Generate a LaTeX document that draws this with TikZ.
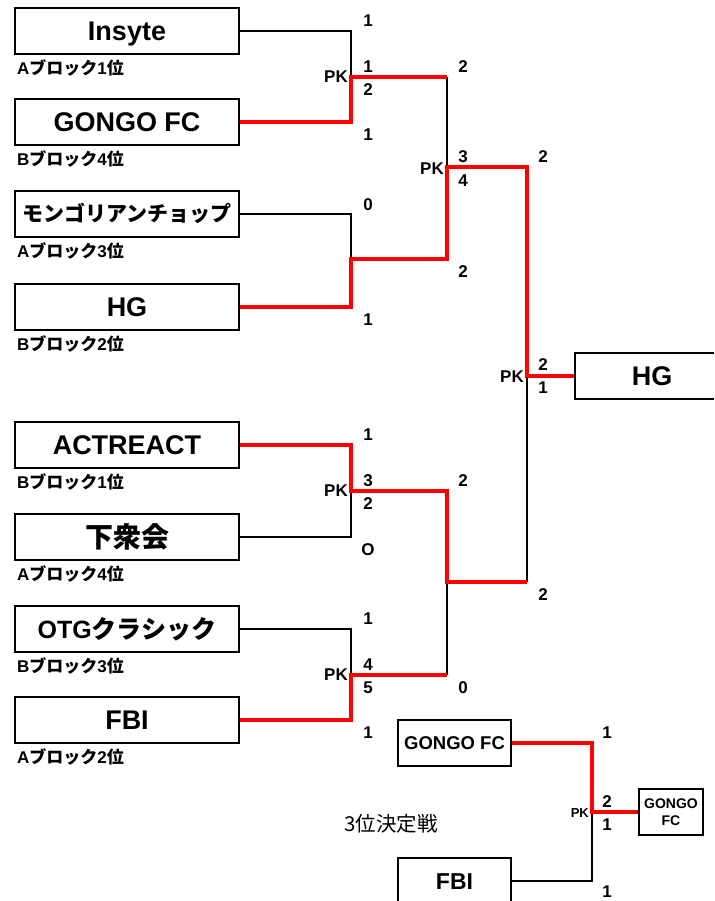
\documentclass[tikz,border=0pt]{standalone}
\usepackage{fontspec}
\setmainfont{Liberation Sans}
\newfontfamily\jpfont{Noto Sans CJK JP}
\newcommand\jt[1]{{\jpfont #1}}
\begin{document}
\begin{tikzpicture}[x=1pt,y=-1pt,
  team/.style={draw, line width=1.8pt, fill=white, minimum width=224pt, minimum height=46pt,
    inner sep=0pt, text height=19.5pt, text depth=0pt, font=\bfseries\fontsize{27}{27}\selectfont},
  blk/.style={line width=1.4pt, black},
  win/.style={line width=3.4pt, red},
  sc/.style={font=\bfseries\fontsize{17}{17}\selectfont, inner sep=0pt},
  pk/.style={font=\bfseries\fontsize{17}{17}\selectfont, inner sep=0pt, anchor=east},
  blab/.style={font=\bfseries\fontsize{17}{17}\selectfont, inner sep=0pt, anchor=west}]
\clip (0,0) rectangle (714,901);
\useasboundingbox (0,0) rectangle (714,901);
\fill[white] (0,0) rectangle (714,901);

% teams
\node[team] (insyte) at (127,31) {Insyte};
\node[team] (gongo) at (127,122) {GONGO FC};
\node[team, font=\bfseries\fontsize{21}{21}\selectfont, text height=16pt] (mongo) at (127,214) {\jt{モンゴリアンチョップ}};
\node[team] (hg) at (127,307) {HG};
\node[team] (act) at (127,445) {ACTREACT};
\node[team, font=\bfseries\fontsize{28}{28}\selectfont, text height=21pt] (gesu) at (127,537) {\jt{下衆会}};
\node[team, font=\bfseries\fontsize{25}{25}\selectfont, text height=18pt] (otg) at (127,629) {OTG\jt{クラシック}};
\node[team] (fbi) at (127,720) {FBI};
\node[team, minimum width=154pt] (champ) at (652,376) {HG};

% block labels
\node[blab] (la1) at (17,68) {A\jt{ブロック}1\jt{位}};
\node[blab] (la2) at (17,159) {B\jt{ブロック}4\jt{位}};
\node[blab] (la3) at (17,251) {A\jt{ブロック}3\jt{位}};
\node[blab] (la4) at (17,344) {B\jt{ブロック}2\jt{位}};
\node[blab] (la5) at (17,482) {B\jt{ブロック}1\jt{位}};
\node[blab] (la6) at (17,574) {A\jt{ブロック}4\jt{位}};
\node[blab] (la7) at (17,666) {B\jt{ブロック}3\jt{位}};
\node[blab] (la8) at (17,757) {A\jt{ブロック}2\jt{位}};

% third place
\node[team, minimum width=113pt, font=\bfseries\fontsize{18.5}{18.5}\selectfont, text height=13.3pt] (g3) at (454.5,743) {GONGO FC};
\node[team, minimum width=113pt, font=\bfseries\fontsize{23}{23}\selectfont, text height=16.5pt] (f3) at (454.5,881) {FBI};
\node[draw, line width=1.8pt, fill=white, minimum width=64pt, minimum height=46pt, inner sep=0pt, align=center,
  font=\bfseries\fontsize{14}{17}\selectfont] (res) at (671,812) {GONGO\\FC};
\node[font=\fontsize{20.5}{20.5}\selectfont, inner sep=0pt] (third) at (391,824) {\jt{3位決定戦}};

% junctions
\coordinate (j1) at (351,77);
\coordinate (j2) at (351,259);
\coordinate (j3) at (351,491);
\coordinate (j4) at (351,675);
\coordinate (k1) at (447,77);
\coordinate (k2) at (447,259);
\coordinate (k3) at (447,491);
\coordinate (k4) at (447,675);
\coordinate (m1) at (447,167);
\coordinate (m2) at (447,582);
\coordinate (n1) at (527,167);
\coordinate (n2) at (527,582);
\coordinate (fin) at (527,376);
\coordinate (j8) at (592,812);

% losers
\draw[blk] (insyte.east) -| (j1);
\draw[blk] (mongo.east) -| (j2);
\draw[blk] (gesu.east) -| (j3);
\draw[blk] (otg.east) -| (j4);
\draw[blk] (k1) -- (m1);
\draw[blk] (m2) -- (k4);
\draw[blk] (n2) -- (fin);
\draw[blk] (f3.east) -| (j8);

% winners
\draw[win] (gongo.east) -| (j1) -- (k1);
\draw[win] (hg.east) -| (j2) -- (k2) -- (m1) -- (n1) -- (fin) -- (champ.west);
\draw[win] (act.east) -| (j3) -- (k3) -- (m2) -- (n2);
\draw[win] (fbi.east) -| (j4) -- (k4);
\draw[win] (g3.east) -| (j8) -- (res.west);

% scores round 1
\node[sc] (a1) at (368,21) {1};
\node[sc] (a2) at (368,67) {1};
\node[sc] (a3) at (368,90) {2};
\node[sc] (a4) at (368,135) {1};
\node[sc] (a5) at (368,205) {0};
\node[sc] (a6) at (368,320) {1};
\node[sc] (a7) at (368,435) {1};
\node[sc] (a8) at (368,481) {3};
\node[sc] (a9) at (368,504) {2};
\node[sc] (a10) at (368,550) {O};
\node[sc] (a11) at (368,619) {1};
\node[sc] (a12) at (368,665) {4};
\node[sc] (a13) at (368,688) {5};
\node[sc] (a14) at (368,733) {1};
\node[pk] (p1) at (348,77) {PK};
\node[pk] (p2) at (348,491) {PK};
\node[pk] (p3) at (348,675) {PK};
% round 2
\node[sc] (b1) at (463,67) {2};
\node[sc] (b2) at (463,157) {3};
\node[sc] (b3) at (463,181) {4};
\node[sc] (b4) at (463,272) {2};
\node[sc] (b5) at (463,481) {2};
\node[sc] (b6) at (463,688) {0};
\node[pk] (p4) at (444,169) {PK};
% final
\node[sc] (c1) at (543,157) {2};
\node[sc] (c2) at (543,365) {2};
\node[sc] (c3) at (543,388) {1};
\node[sc] (c4) at (543,595) {2};
\node[pk] (p5) at (524,377) {PK};
% third place scores
\node[sc] (d1) at (607,733) {1};
\node[sc] (d2) at (607,802) {2};
\node[sc] (d3) at (607,825) {1};
\node[sc] (d4) at (607,892) {1};
\node[pk, font=\bfseries\fontsize{13}{13}\selectfont] (p6) at (589,813) {PK};
\end{tikzpicture}
\end{document}
